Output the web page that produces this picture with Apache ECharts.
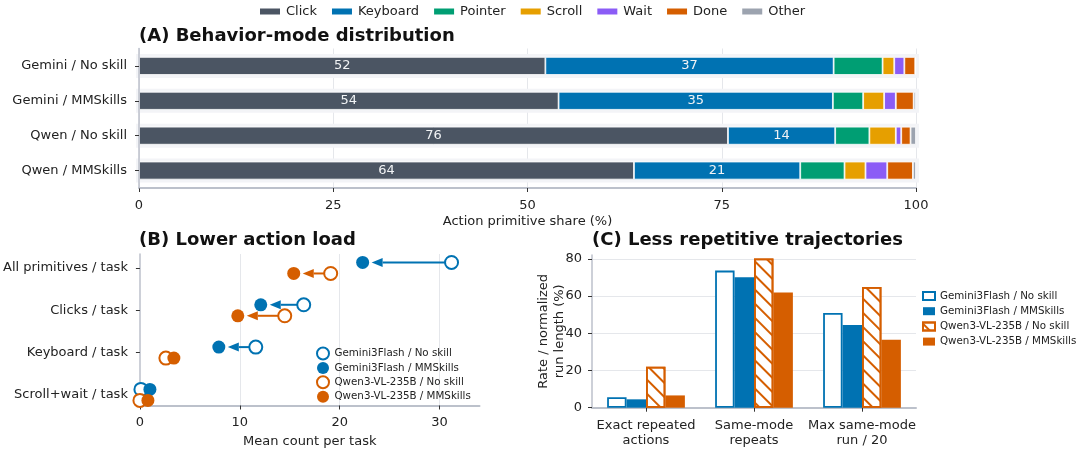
<!DOCTYPE html>
<html><head><meta charset="utf-8">
<script src="https://cdn.jsdelivr.net/npm/echarts@6/dist/echarts.min.js"></script>
<style>html,body{margin:0;padding:0;background:#fff}#c{width:1080px;height:449px}</style>
</head><body><div id="c"></div>
<script>
// ---------- Panel A data ----------
const modes = ['Click', 'Keyboard', 'Pointer', 'Scroll', 'Wait', 'Done', 'Other'];
const rowsA = ['Gemini / No skill', 'Gemini / MMSkills', 'Qwen / No skill', 'Qwen / MMSkills'];
const clickShare    = [52.3, 54.0, 75.8, 63.7];
const keyboardShare = [37.1, 35.3, 13.8, 21.4];
const pointerShare  = [6.3, 3.9, 4.4, 5.7];
const scrollShare   = [1.5, 2.7, 3.4, 2.7];
const waitShare     = [1.3, 1.5, 0.7, 2.8];
const doneShare     = [1.4, 2.3, 1.2, 3.3];
const otherShare    = [0.1, 0.3, 0.7, 0.4];
const ticksA = [0, 25, 50, 75, 100];

// ---------- Panel B data ----------
const metricsB = ['All primitives / task', 'Clicks / task', 'Keyboard / task', 'Scroll+wait / task'];
const modelNames = ['Gemini3Flash / No skill', 'Gemini3Flash / MMSkills', 'Qwen3-VL-235B / No skill', 'Qwen3-VL-235B / MMSkills'];
const geminiNoSkill  = [31.2, 16.4, 11.6, 0.1];
const geminiMMSkills = [22.3, 12.1, 7.9, 1.0];
const qwenNoSkill    = [19.1, 14.5, 2.6, 0.0];
const qwenMMSkills   = [15.4, 9.8, 3.4, 0.8];
const ticksB = [0, 10, 20, 30];

// ---------- Panel C data ----------
const groupsC = ['Exact repeated\nactions', 'Same-mode\nrepeats', 'Max same-mode\nrun / 20'];
const cGeminiNoSkill  = [5.6, 73.7, 50.9];
const cGeminiMMSkills = [4.5, 70.1, 44.4];
const cQwenNoSkill    = [22.0, 80.2, 64.9];
const cQwenMMSkills   = [6.6, 62.0, 36.6];
const ticksC = [0, 20, 40, 60, 80];

const FONT = 'DejaVu Sans';
const TXT = '#222';
const SPINE = '#bcc1cb';
const TICK = '#333';
const GRIDC = '#e5e7eb';
const BLUE = '#0072b2', ORANGE = '#d55e00';
const modeColors = ['#4b5563', '#0072b2', '#009e73', '#e69f00', '#8b5cf6', '#d55e00', '#9ca3af'];
const shares = [clickShare, keyboardShare, pointerShare, scrollShare, waitShare, doneShare, otherShare];

const chart = echarts.init(document.getElementById('c'), null, { renderer: 'canvas' });

const seriesA = modes.map((m, i) => ({
  type: 'bar', name: m, stack: 'A', xAxisIndex: 0, yAxisIndex: 0,
  data: shares[i], barWidth: 18,
  itemStyle: { color: modeColors[i], borderColor: '#fff', borderWidth: 0.8 },
  label: { show: true, position: 'inside', color: '#f1f3f5', fontSize: 13, fontFamily: FONT,
    formatter: p => (p.value >= 10 ? String(Math.round(p.value)) : '') },
  showBackground: i === 0,
  backgroundStyle: { color: '#f3f4f7', borderColor: '#f3f4f7', borderWidth: 6 },
  emphasis: { disabled: true }
}));

const OFF = 0.13;
function arrowSeries(noArr, mmArr, off, color) {
  return {
    type: 'custom', xAxisIndex: 1, yAxisIndex: 1, z: 1, silent: true,
    encode: { x: [0, 1], y: 2 },
    data: noArr.map((v, i) => [v, mmArr[i], i + off]),
    renderItem: (params, api) => {
      const a = api.coord([api.value(0), api.value(2)]);
      const b = api.coord([api.value(1), api.value(2)]);
      const dx = a[0] - b[0];
      if (Math.abs(dx) < 30) return { type: 'group', children: [] };
      const s = Math.sign(dx);
      const tip = b[0] + s * 9, base = tip + s * 11;
      return { type: 'group', children: [
        { type: 'line', shape: { x1: a[0], y1: a[1], x2: base, y2: b[1] }, style: { stroke: color, lineWidth: 2 } },
        { type: 'polygon', shape: { points: [[tip, b[1]], [base, b[1] - 4.5], [base, b[1] + 4.5]] }, style: { fill: color } }
      ] };
    }
  };
}
function dotSeries(name, arr, off, color, open) {
  return {
    type: 'scatter', name: 'B|' + name, xAxisIndex: 1, yAxisIndex: 1, z: open ? 3 : 4,
    data: arr.map((v, i) => [v, i + off]), symbolSize: 13,
    itemStyle: open ? { color: '#fff', borderColor: color, borderWidth: 2, opacity: 1 } : { color: color, borderWidth: 0, opacity: 1 },
    emphasis: { disabled: true }
  };
}
const seriesB = [
  arrowSeries(geminiNoSkill, geminiMMSkills, -OFF, BLUE),
  arrowSeries(qwenNoSkill, qwenMMSkills, OFF, ORANGE),
  Object.assign(dotSeries(modelNames[0], geminiNoSkill, -OFF, BLUE, true), {
    markLine: { silent: true, symbol: 'none', z: 0, label: { show: false },
      lineStyle: { color: GRIDC, width: 1, type: 'solid' }, emphasis: { disabled: true },
      data: ticksB.slice(1).map(v => ({ xAxis: v })) }
  }),
  dotSeries(modelNames[1], geminiMMSkills, -OFF, BLUE, false),
  dotSeries(modelNames[2], qwenNoSkill, OFF, ORANGE, true),
  dotSeries(modelNames[3], qwenMMSkills, OFF, ORANGE, false)
];

const hatch = { symbol: 'rect', symbolSize: 1, dashArrayX: [1, 0], dashArrayY: [1.6, 8], rotation: Math.PI / 4, color: ORANGE };
const seriesC = [
  { type: 'bar', name: modelNames[0], xAxisIndex: 2, yAxisIndex: 2, data: cGeminiNoSkill,
    itemStyle: { color: '#fff', borderColor: BLUE, borderWidth: 1.8 },
    markLine: { silent: true, symbol: 'none', z: 0, label: { show: false },
      lineStyle: { color: GRIDC, width: 1, type: 'solid' }, emphasis: { disabled: true },
      data: ticksC.slice(1).map(v => ({ yAxis: v })) } },
  { type: 'bar', name: modelNames[1], xAxisIndex: 2, yAxisIndex: 2, data: cGeminiMMSkills,
    itemStyle: { color: BLUE } },
  { type: 'bar', name: modelNames[2], xAxisIndex: 2, yAxisIndex: 2, data: cQwenNoSkill,
    itemStyle: { color: '#fff', borderColor: ORANGE, borderWidth: 1.8, decal: hatch } },
  { type: 'bar', name: modelNames[3], xAxisIndex: 2, yAxisIndex: 2, data: cQwenMMSkills,
    itemStyle: { color: ORANGE } }
].map(s => Object.assign(s, { barGap: '0%', barCategoryGap: '28%', emphasis: { disabled: true } }));

const axisTxt = { fontSize: 13, color: TXT, fontFamily: FONT };

const option = {
  animation: false,
  textStyle: { fontFamily: FONT },
  title: [
    { text: '(A) Behavior-mode distribution', left: 139, top: 27, padding: 0,
      textStyle: { fontSize: 18, fontWeight: 'bold', color: '#111', fontFamily: FONT } },
    { text: '(B) Lower action load', left: 139, top: 231, padding: 0,
      textStyle: { fontSize: 18, fontWeight: 'bold', color: '#111', fontFamily: FONT } },
    { text: '(C) Less repetitive trajectories', left: 592, top: 231, padding: 0,
      textStyle: { fontSize: 18, fontWeight: 'bold', color: '#111', fontFamily: FONT } }
  ],
  legend: [
    { data: modes, top: 5, left: 258, padding: 0, icon: 'rect', itemWidth: 22, itemHeight: 8, itemGap: 13,
      textStyle: { fontSize: 13, color: TXT, fontFamily: FONT } },
    { data: modelNames.map(n => 'B|' + n), orient: 'vertical', left: 316, top: 346.5, padding: 0,
      itemWidth: 13, itemHeight: 12, itemGap: 1.4, formatter: n => n.slice(2),
      textStyle: { fontSize: 10.3, lineHeight: 12, color: TXT, fontFamily: FONT } },
    { data: modelNames, orient: 'vertical', left: 922, top: 289.5, padding: 0, icon: 'rect',
      itemWidth: 12, itemHeight: 8, itemGap: 2.2,
      textStyle: { fontSize: 10.3, lineHeight: 13, color: TXT, fontFamily: FONT } }
  ],
  grid: [
    { left: 139, top: 48.5, width: 777, height: 139.5 },
    { left: 139, top: 254, width: 340.5, height: 153.7 },
    { left: 592, top: 255, width: 324, height: 152.7 }
  ],
  xAxis: [
    { type: 'value', gridIndex: 0, min: 0, max: 100, interval: 25,
      axisLine: { show: true, onZero: false, lineStyle: { color: SPINE, width: 2 } },
      axisTick: { show: true, length: 4, lineStyle: { color: TICK } },
      axisLabel: Object.assign({ margin: 11, customValues: ticksA }, axisTxt),
      splitLine: { show: true, lineStyle: { color: GRIDC, width: 1 } },
      name: 'Action primitive share (%)', nameLocation: 'middle', nameGap: 27.5, nameMoveOverlap: false,
      nameTextStyle: axisTxt },
    { type: 'value', gridIndex: 1, min: 0, max: 34,
      axisLine: { show: true, onZero: false, lineStyle: { color: SPINE, width: 2 } },
      axisTick: { show: true, length: 4, lineStyle: { color: TICK }, customValues: ticksB },
      axisLabel: Object.assign({ margin: 11, customValues: ticksB }, axisTxt),
      splitLine: { show: false },
      name: 'Mean count per task', nameLocation: 'middle', nameGap: 29.5, nameMoveOverlap: false,
      nameTextStyle: axisTxt },
    { type: 'category', gridIndex: 2, data: groupsC,
      axisLine: { show: true, onZero: false, lineStyle: { color: SPINE, width: 2 } },
      axisTick: { show: true, alignWithLabel: true, length: 4, lineStyle: { color: TICK } },
      axisLabel: Object.assign({ margin: 10, interval: 0, lineHeight: 15 }, axisTxt) }
  ],
  yAxis: [
    { type: 'category', gridIndex: 0, data: rowsA, inverse: true, z: 3,
      axisLine: { show: true, onZero: false, lineStyle: { color: SPINE, width: 1.5 } },
      axisTick: { show: true, alignWithLabel: true, length: 4, lineStyle: { color: TICK } },
      axisLabel: Object.assign({ margin: 12 }, axisTxt) },
    { type: 'value', gridIndex: 1, min: -0.33, max: 3.25, inverse: true,
      axisLine: { show: true, onZero: false, lineStyle: { color: SPINE, width: 1.5 } },
      axisTick: { show: true, length: 4, lineStyle: { color: TICK }, customValues: [0, 1, 2, 3] },
      axisLabel: Object.assign({ margin: 12, customValues: [0, 1, 2, 3],
        formatter: v => metricsB[Math.round(v)] }, axisTxt),
      splitLine: { show: false } },
    { type: 'value', gridIndex: 2, min: 0, max: 82.1,
      axisLine: { show: true, onZero: false, lineStyle: { color: SPINE, width: 1.5 } },
      axisTick: { show: true, length: 4, lineStyle: { color: TICK }, customValues: ticksC },
      axisLabel: Object.assign({ margin: 10, customValues: ticksC }, axisTxt),
      splitLine: { show: false },
      name: 'Rate / normalized\nrun length (%)', nameLocation: 'middle', nameGap: 24, nameMoveOverlap: false,
      nameTextStyle: Object.assign({ lineHeight: 16 }, axisTxt) }
  ],
  series: [].concat(seriesA, seriesB, seriesC)
};
chart.setOption(option);
</script>
</body></html>
